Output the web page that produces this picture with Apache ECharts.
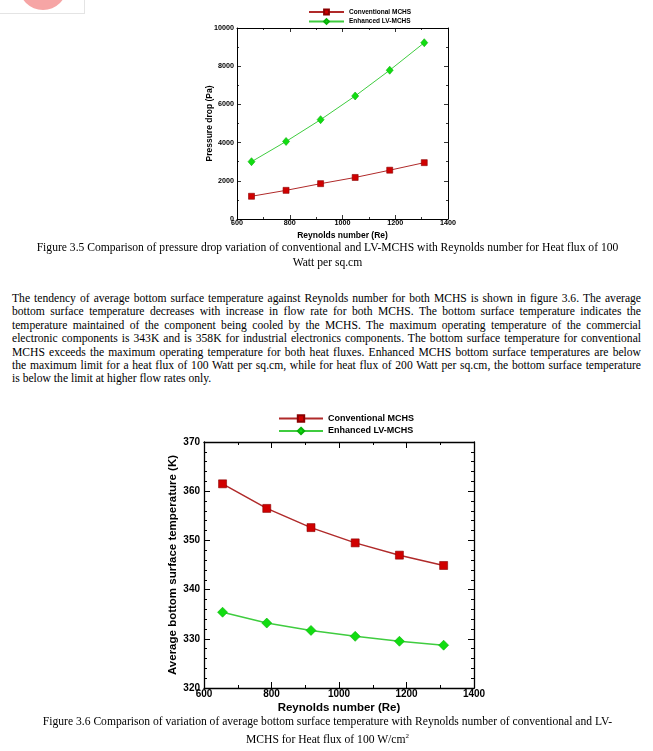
<!DOCTYPE html>
<html>
<head>
<meta charset="utf-8">
<script src="https://cdn.jsdelivr.net/npm/echarts@6/dist/echarts.min.js"></script>
<style>
  html, body { margin:0; padding:0; background:#fff; }
  #page { position:relative; width:653px; height:751px; overflow:hidden; background:#fff; }
  .serif { font-family:"Liberation Serif","Times New Roman",serif; color:#000; }
  .pline { position:absolute; left:12px; width:629px; height:14px; line-height:14px; font-size:11.6px; white-space:nowrap; text-align:justify; text-align-last:justify; }
  .pline.last { text-align-last:left; }
  .cap { position:absolute; left:0; width:655px; text-align:center; font-size:11.6px; height:15px; line-height:15px; white-space:nowrap; }
  #logo { position:absolute; left:0; top:0; width:84px; height:13px; border-right:1px solid #e4e4e4; border-bottom:1px solid #e4e4e4; overflow:hidden; }
  #logo div { position:absolute; left:19px; top:-38px; width:48px; height:48px; border-radius:50%; background:#f6a5a5; }
  #c1 { position:absolute; left:150px; top:0; width:350px; height:245px; }
  #c2 { position:absolute; left:120px; top:400px; width:400px; height:320px; }
</style>
</head>
<body>
<div id="page">
  <div id="logo"><div></div></div>
  <div id="c1"></div>
  <div id="c2"></div>
  <div id="texts"></div>
</div>
<script>
// ---- data ----
const reynolds = [655, 786, 917, 1048, 1179, 1310];
const pressureConv = [1190, 1500, 1850, 2175, 2555, 2950];
const pressureEnh = [3000, 4060, 5200, 6440, 7790, 9230];
const tempConv = [361.5, 356.5, 352.6, 349.5, 347.0, 344.9];
const tempEnh = [335.4, 333.2, 331.7, 330.5, 329.5, 328.7];
const seriesNames = ['Conventional MCHS', 'Enhanced LV-MCHS'];

const paragraph = [
  'The tendency of average bottom surface temperature against Reynolds number for both MCHS is shown in figure 3.6. The average',
  'bottom surface temperature decreases with increase in flow rate for both MCHS. The bottom surface temperature indicates the',
  'temperature maintained of the component being cooled by the MCHS. The maximum operating temperature of the commercial',
  'electronic components is 343K and is 358K for industrial electronics components. The bottom surface temperature for conventional',
  'MCHS exceeds the maximum operating temperature for both heat fluxes. Enhanced MCHS bottom surface temperatures are below',
  'the maximum limit for a heat flux of 100 Watt per sq.cm, while for heat flux of 200 Watt per sq.cm, the bottom surface temperature',
  'is below the limit at higher flow rates only.'
];
const caption1 = ['Figure 3.5 Comparison of pressure drop variation of conventional and LV-MCHS with Reynolds number for Heat flux of 100', 'Watt per sq.cm'];
const caption2 = ['Figure 3.6 Comparison of variation of average bottom surface temperature with Reynolds number of conventional and LV-', 'MCHS for Heat flux of 100 W/cm'];

// ---- text ----
const texts = document.getElementById('texts');
paragraph.forEach((t, i) => {
  const d = document.createElement('div');
  d.className = 'pline serif' + (i === paragraph.length - 1 ? ' last' : '');
  d.style.top = (299 + 13.4 * i - 7) + 'px';
  texts.appendChild(d);
  const s = document.createElement('span');
  s.textContent = t; s.style.whiteSpace = 'nowrap';
  d.appendChild(s);
  const w = s.getBoundingClientRect().width;
  d.textContent = t;
  if (w > 627) {
    const spaces = (t.match(/ /g) || []).length;
    d.style.wordSpacing = (-(w - 627) / spaces) + 'px';
  }
});
function addCap(lines, y0, sup) {
  lines.forEach((t, i) => {
    const d = document.createElement('div');
    d.className = 'cap serif';
    d.style.top = (y0 + 15 * i - 7.5) + 'px';
    d.textContent = t;
    if (sup && i === lines.length - 1) {
      const s = document.createElement('sup');
      s.textContent = '2'; s.style.fontSize = '7px'; s.style.verticalAlign = '5px';
      d.appendChild(s);
    }
    texts.appendChild(d);
  });
}
addCap(caption1, 247, false);
addCap(caption2, 721, true);

// ---- charts ----
const FONT = '"Liberation Sans", Arial, sans-serif';
function pairs(xs, ys) { return xs.map((x, i) => [x, ys[i]]); }
const plain = (v) => String(v);

function makeAxes(cfg) {
  const tick = (len) => ({ show: true, inside: true, length: len, lineStyle: { color: '#000', width: cfg.tw } });
  const minor = (n) => ({ show: true, splitNumber: n, length: cfg.minorLen, lineStyle: { color: '#000', width: cfg.tw } });
  const line = { show: true, onZero: false, lineStyle: { color: '#000', width: cfg.lw } };
  const xBase = { type: 'value', min: cfg.xmin, max: cfg.xmax, interval: cfg.xint, splitLine: { show: false },
    axisLine: line, axisTick: tick(cfg.majorLen), minorTick: minor(cfg.xminor), minorSplitLine: { show: false } };
  const yBase = { type: 'value', min: cfg.ymin, max: cfg.ymax, interval: cfg.yint, splitLine: { show: false },
    axisLine: line, axisTick: tick(cfg.majorLen), minorTick: minor(cfg.yminor), minorSplitLine: { show: false } };
  return {
    xAxis: [
      Object.assign({}, xBase, { position: 'bottom', name: cfg.xname, nameLocation: 'middle', nameGap: cfg.xnameGap, nameMoveOverlap: false,
        nameTextStyle: { fontFamily: FONT, fontWeight: 'bold', fontSize: cfg.nameSize, color: '#000' },
        axisLabel: { formatter: plain, fontFamily: FONT, fontWeight: 'bold', fontSize: cfg.labelSize, color: '#000', margin: cfg.xlabMargin } }),
      Object.assign({}, xBase, { position: 'top', axisLabel: { show: false } })
    ],
    yAxis: [
      Object.assign({}, yBase, { position: 'left', name: cfg.yname, nameLocation: 'middle', nameGap: cfg.ynameGap, nameMoveOverlap: false,
        nameTextStyle: { fontFamily: FONT, fontWeight: 'bold', fontSize: cfg.nameSize, color: '#000' },
        axisLabel: { formatter: plain, fontFamily: FONT, fontWeight: 'bold', fontSize: cfg.labelSize, color: '#000', margin: cfg.ylabMargin } }),
      Object.assign({}, yBase, { position: 'right', axisLabel: { show: false } })
    ]
  };
}

function makeSeries(cfg, convY, enhY) {
  return [
    { name: seriesNames[0], type: 'line', data: pairs(reynolds, convY), symbol: 'rect', symbolSize: cfg.sq,
      lineStyle: { color: '#b02a2a', width: cfg.slw }, itemStyle: { color: '#d00000', borderColor: '#8a0000', borderWidth: 0.6 }, z: 3 },
    { name: seriesNames[1], type: 'line', data: pairs(reynolds, enhY), symbol: 'diamond', symbolSize: cfg.dm,
      lineStyle: { color: '#3fcc3f', width: cfg.slw }, itemStyle: { color: '#11dd11', borderColor: '#08b008', borderWidth: 0.6 }, z: 3 }
  ];
}

// Chart 1: pressure drop
const c1 = echarts.init(document.getElementById('c1'), null, { renderer: 'canvas' });
const cfg1 = { xmin: 600, xmax: 1400, xint: 200, ymin: 0, ymax: 10000, yint: 2000, xminor: 2, yminor: 2,
  majorLen: 4, minorLen: 2, tw: 0.8, lw: 1, labelSize: 7.2, nameSize: 8.5, xlabMargin: 1, ylabMargin: 3,
  xname: 'Reynolds number (Re)', yname: 'Pressure drop (Pa)', xnameGap: 12, ynameGap: 22.5, sq: [6, 6], dm: [7, 8], slw: 1 };
c1.setOption(Object.assign({
  animation: false,
  grid: { left: 87, top: 28, width: 211, height: 193 },
  legend: { orient: 'vertical', left: 153, top: 3.5, itemWidth: 35, itemHeight: 6, itemGap: 2.5,
    textStyle: { fontFamily: FONT, fontWeight: 'bold', fontSize: 6.5, color: '#000' } },
  series: makeSeries(cfg1, pressureConv, pressureEnh)
}, makeAxes(cfg1)));

// Chart 2: temperature
const c2 = echarts.init(document.getElementById('c2'), null, { renderer: 'canvas' });
const cfg2 = { xmin: 600, xmax: 1400, xint: 200, ymin: 320, ymax: 370, yint: 10, xminor: 2, yminor: 5,
  majorLen: 6, minorLen: 3, tw: 1, lw: 1.3, labelSize: 10, nameSize: 11.5, xlabMargin: 1, ylabMargin: 4,
  xname: 'Reynolds number (Re)', yname: 'Average bottom surface temperature (K)', xnameGap: 14, ynameGap: 25.5, sq: [8, 8], dm: [10, 10], slw: 1.5 };
c2.setOption(Object.assign({
  animation: false,
  grid: { left: 84, top: 42, width: 270, height: 246 },
  legend: { orient: 'vertical', left: 153, top: 9, itemWidth: 44, itemHeight: 8, itemGap: 3.5,
    textStyle: { fontFamily: FONT, fontWeight: 'bold', fontSize: 9, color: '#000' } },
  series: makeSeries(cfg2, tempConv, tempEnh)
}, makeAxes(cfg2)));
</script>
</body>
</html>
